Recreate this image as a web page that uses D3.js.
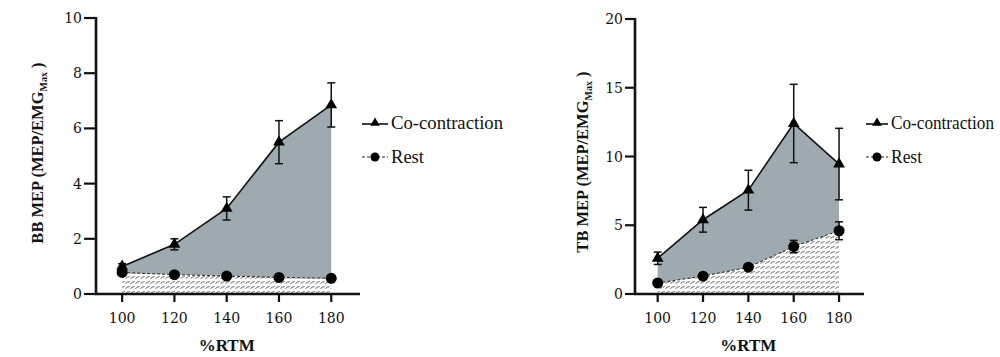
<!DOCTYPE html>
<html><head><meta charset="utf-8">
<script src="https://cdn.jsdelivr.net/npm/d3@7"></script>
<style>body{margin:0;background:#fff}svg{display:block}</style>
</head><body><svg id="c" width="1000" height="357"></svg>
<script>
const rtm = [100, 120, 140, 160, 180];
const bbCo = [1.0, 1.8, 3.1, 5.5, 6.85];
const bbCoErr = [0.1, 0.2, 0.42, 0.78, 0.8];
const bbRest = [0.78, 0.7, 0.65, 0.6, 0.57];
const bbRestErr = [0.05, 0.05, 0.05, 0.05, 0.05];
const tbCo = [2.6, 5.4, 7.55, 12.4, 9.45];
const tbCoErr = [0.45, 0.9, 1.45, 2.85, 2.6];
const tbRest = [0.8, 1.3, 1.95, 3.45, 4.6];
const tbRestErr = [0.1, 0.15, 0.15, 0.45, 0.65];
const bbTicks = [0, 2, 4, 6, 8, 10];
const tbTicks = [0, 5, 10, 15, 20];
const legendLabels = ["Co-contraction", "Rest"];
const xLabel = "%RTM";

const svg = d3.select("#c");
const defs = svg.append("defs");
const pat = defs.append("pattern").attr("id", "hatch").attr("patternUnits", "userSpaceOnUse")
  .attr("width", 5).attr("height", 5);
pat.append("rect").attr("width", 5).attr("height", 5).attr("fill", "#fff");
pat.append("path").attr("d", "M0.5,4 L2,2 L4,2 L4.5,1").attr("fill", "none")
  .attr("stroke", "#7a7a7a").attr("stroke-width", 1);

const panels = [
  {co: bbCo, coErr: bbCoErr, rest: bbRest, restErr: bbRestErr, ticks: bbTicks, yMax: 10,
   ax: 96, xEnd: 360, yTop: 18, yBot: 294, tickLen: 12, lab: "BB MEP (MEP/EMG", labX: 38, labY: 153,
   legX: 362, legW: 26, textW: [112, 33]},
  {co: tbCo, coErr: tbCoErr, rest: tbRest, restErr: tbRestErr, ticks: tbTicks, yMax: 20,
   ax: 635, xEnd: 864, yTop: 19, yBot: 294, tickLen: 10, lab: "TB MEP (MEP/EMG", labX: 583, labY: 162,
   legX: 866, legW: 22, textW: [103, 31]}
];

panels.forEach(p => {
  const g = svg.append("g");
  const x = d3.scaleLinear().domain([90, 191]).range([p.ax, p.xEnd]);
  const y = d3.scaleLinear().domain([0, p.yMax]).range([p.yBot, p.yTop]);
  const pts = rtm.map((v, i) => ({x: v, co: p.co[i], ce: p.coErr[i], r: p.rest[i], re: p.restErr[i]}));

  g.append("path").datum(pts).attr("fill", "#9eaab0")
    .attr("d", d3.area().x(d => x(d.x)).y0(d => y(d.r)).y1(d => y(d.co)));
  g.append("path").datum(pts).attr("fill", "url(#hatch)")
    .attr("d", d3.area().x(d => x(d.x)).y0(y(0)).y1(d => y(d.r)));

  g.append("path").datum(pts).attr("fill", "none").attr("stroke", "#111").attr("stroke-width", 1.6)
    .attr("d", d3.line().x(d => x(d.x)).y(d => y(d.co)));
  g.append("path").datum(pts).attr("fill", "none").attr("stroke", "#222").attr("stroke-width", 1)
    .attr("stroke-dasharray", "3,2")
    .attr("d", d3.line().x(d => x(d.x)).y(d => y(d.r)));

  const eb = (val, err) => {
    pts.forEach(d => {
      const cx = x(d.x), t = y(d[val] + d[err]), b = y(d[val] - d[err]);
      g.append("line").attr("x1", cx).attr("x2", cx).attr("y1", t).attr("y2", b).attr("stroke", "#111").attr("stroke-width", 1.5);
      [t, b].forEach(yy => g.append("line").attr("x1", cx - 4).attr("x2", cx + 4).attr("y1", yy).attr("y2", yy).attr("stroke", "#111").attr("stroke-width", 1.5));
    });
  };
  eb("co", "ce");
  eb("r", "re");

  g.selectAll(null).data(pts).enter().append("circle")
    .attr("cx", d => x(d.x)).attr("cy", d => y(d.r)).attr("r", 5.5).attr("fill", "#000");
  g.selectAll(null).data(pts).enter().append("path")
    .attr("transform", d => `translate(${x(d.x)},${y(d.co)})`)
    .attr("d", d3.symbol(d3.symbolTriangle, 60)).attr("fill", "#000");

  g.append("line").attr("x1", p.ax).attr("x2", p.ax).attr("y1", p.yTop - 1).attr("y2", p.yBot + 1)
    .attr("stroke", "#111").attr("stroke-width", 2.6);
  g.append("line").attr("x1", p.ax - 1).attr("x2", p.xEnd).attr("y1", p.yBot).attr("y2", p.yBot)
    .attr("stroke", "#111").attr("stroke-width", 2.6);
  p.ticks.forEach(t => {
    g.append("line").attr("x1", p.ax - p.tickLen).attr("x2", p.ax).attr("y1", y(t)).attr("y2", y(t))
      .attr("stroke", "#111").attr("stroke-width", 2.2);
    g.append("text").attr("x", p.ax - p.tickLen - 2).attr("y", y(t)).attr("dy", "0.36em")
      .attr("text-anchor", "end").attr("font-family", "DejaVu Serif").attr("font-size", 14)
      .attr("fill", "#111").text(t);
  });
  rtm.forEach(t => {
    g.append("line").attr("x1", x(t)).attr("x2", x(t)).attr("y1", p.yBot).attr("y2", p.yBot + 8)
      .attr("stroke", "#111").attr("stroke-width", 2.2);
    g.append("text").attr("x", x(t)).attr("y", 323).attr("text-anchor", "middle")
      .attr("font-family", "DejaVu Serif").attr("font-size", 14).attr("fill", "#111").text(t);
  });
  g.append("text").attr("x", x(140)).attr("y", 351).attr("text-anchor", "middle")
    .attr("font-family", "Liberation Serif").attr("font-weight", "bold").attr("font-size", 17)
    .attr("fill", "#111").text(xLabel);

  const yl = g.append("text").attr("transform", `translate(${p.labX + 5},${p.labY}) rotate(-90)`)
    .attr("text-anchor", "middle").attr("font-family", "Liberation Serif").attr("font-weight", "bold")
    .attr("font-size", 16.5).attr("fill", "#111");
  yl.append("tspan").text(p.lab);
  yl.append("tspan").attr("font-size", 10).attr("dy", 4).text("Max");
  yl.append("tspan").attr("dy", -4).text(" )");

  const lx = p.legX, lw = p.legW;
  g.append("line").attr("x1", lx).attr("x2", lx + lw).attr("y1", 124).attr("y2", 124).attr("stroke", "#111").attr("stroke-width", 1.6);
  g.append("path").attr("transform", `translate(${lx + lw / 2},123)`).attr("d", d3.symbol(d3.symbolTriangle, 40)).attr("fill", "#000");
  g.append("text").attr("x", lx + lw + 3).attr("y", 129).attr("font-family", "Liberation Serif").attr("font-size", 18)
    .attr("textLength", p.textW[0]).attr("lengthAdjust", "spacingAndGlyphs")
    .attr("fill", "#111").text(legendLabels[0]);
  g.append("line").attr("x1", lx).attr("x2", lx + lw).attr("y1", 157).attr("y2", 157).attr("stroke", "#222").attr("stroke-width", 1).attr("stroke-dasharray", "3,2");
  g.append("circle").attr("cx", lx + lw / 2).attr("cy", 157).attr("r", 4.5).attr("fill", "#000");
  g.append("text").attr("x", lx + lw + 3).attr("y", 163).attr("font-family", "Liberation Serif").attr("font-size", 18)
    .attr("textLength", p.textW[1]).attr("lengthAdjust", "spacingAndGlyphs")
    .attr("fill", "#111").text(legendLabels[1]);
});
</script></body></html>
